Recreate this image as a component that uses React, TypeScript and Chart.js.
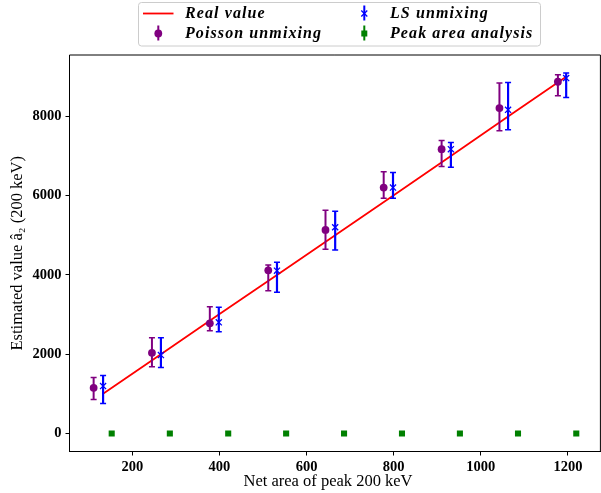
import React, { useEffect, useRef } from "react";
import { Chart, registerables } from "chart.js";
Chart.register(...registerables);

// ---- data ----
const realX = [132.7, 265.5, 398.4, 532.0, 665.6, 798.4, 931.3, 1062.6, 1196.0];
const realY = [1000, 2000, 3000, 4000, 5000, 6000, 7000, 8000, 9000];

const poissonX = [111.0, 244.9, 377.8, 512.0, 643.4, 777.0, 910.0, 1042.8, 1177.0];
const poissonY = [1152, 2036, 2779, 4118, 5136, 6205, 7175, 8211, 8876];
const poissonLow = [859, 1683, 2592, 3603, 4649, 5937, 6736, 7638, 8522];
const poissonHigh = [1415, 2416, 3199, 4252, 5634, 6602, 7393, 8843, 9053];

const lsX = [132.7, 265.5, 398.4, 532.0, 665.6, 798.4, 931.3, 1062.6, 1196.0];
const lsY = [1195, 1978, 2804, 4108, 5205, 6205, 7175, 8168, 8969];
const lsLow = [758, 1667, 2567, 3562, 4631, 5937, 6720, 7663, 8479];
const lsHigh = [1465, 2416, 3183, 4320, 5609, 6584, 7342, 8858, 9096];

const peakX = [152.5, 286.0, 420.0, 553.0, 686.0, 819.0, 952.0, 1085.4, 1219.2];
const peakY = [0, 0, 0, 0, 0, 0, 0, 0, 0];

const xTicks = [200, 400, 600, 800, 1000, 1200];
const yTicks = [0, 2000, 4000, 6000, 8000];

const legendLabels = ["Real value", "Poisson unmixing", "LS unmixing", "Peak area analysis"];
const xTitle = "Net area of peak 200 keV";
const yTitle = "Estimated value â₂ (200 keV)";

const RED = "#ff0000";
const PURPLE = "#800080";
const BLUE = "#0000ff";
const GREEN = "#008000";

const pts = (xs: number[], ys: number[]) => xs.map((x, i) => ({ x, y: ys[i] }));

const errorBarPlugin = {
  id: "errorBars",
  beforeDatasetDraw(chart: any, args: any) {
    const ds = chart.data.datasets[args.index];
    if (!ds.errLow) return;
    const { ctx } = chart;
    const x = chart.scales.x;
    const y = chart.scales.y;
    ctx.save();
    ctx.strokeStyle = ds.errColor;
    ds.data.forEach((p: any, i: number) => {
      const px = x.getPixelForValue(p.x);
      const y1 = y.getPixelForValue(ds.errLow[i]);
      const y2 = y.getPixelForValue(ds.errHigh[i]);
      ctx.lineWidth = ds.errWidth;
      ctx.beginPath();
      ctx.moveTo(px, y1);
      ctx.lineTo(px, y2);
      ctx.stroke();
      ctx.lineWidth = 1.5;
      ctx.beginPath();
      ctx.moveTo(px - 3, y1);
      ctx.lineTo(px + 3, y1);
      ctx.moveTo(px - 3, y2);
      ctx.lineTo(px + 3, y2);
      ctx.stroke();
    });
    ctx.restore();
  },
};

const framePlugin = {
  id: "frameAndLegend",
  afterDraw(chart: any) {
    const { ctx, chartArea } = chart;
    ctx.save();
    ctx.strokeStyle = "#000";
    ctx.lineWidth = 1;
    ctx.beginPath();
    ctx.moveTo(chartArea.left, chartArea.top);
    ctx.lineTo(chartArea.right, chartArea.top);
    ctx.lineTo(chartArea.right, chartArea.bottom);
    ctx.stroke();

    // axis titles
    ctx.fillStyle = "#000";
    ctx.font = "16.5px 'Liberation Serif'";
    ctx.textAlign = "center";
    ctx.textBaseline = "alphabetic";
    ctx.fillText(xTitle, 328, 485.5);
    ctx.save();
    ctx.translate(21.5, (chartArea.top + chartArea.bottom) / 2);
    ctx.rotate(-Math.PI / 2);
    ctx.fillText(yTitle, 0, 0);
    ctx.restore();

    // legend box
    const bx = 138.5, by = 2.5, bw = 402, bh = 43.5, r = 3;
    ctx.beginPath();
    ctx.moveTo(bx + r, by);
    ctx.lineTo(bx + bw - r, by);
    ctx.quadraticCurveTo(bx + bw, by, bx + bw, by + r);
    ctx.lineTo(bx + bw, by + bh - r);
    ctx.quadraticCurveTo(bx + bw, by + bh, bx + bw - r, by + bh);
    ctx.lineTo(bx + r, by + bh);
    ctx.quadraticCurveTo(bx, by + bh, bx, by + bh - r);
    ctx.lineTo(bx, by + r);
    ctx.quadraticCurveTo(bx, by, bx + r, by);
    ctx.closePath();
    ctx.fillStyle = "rgba(255,255,255,0.8)";
    ctx.fill();
    ctx.strokeStyle = "#cccccc";
    ctx.lineWidth = 1;
    ctx.stroke();

    const row1 = 13.5, row2 = 33.5;
    const c1 = 158.3, c2 = 364.3;
    // Real value line
    ctx.strokeStyle = RED;
    ctx.lineWidth = 1.8;
    ctx.beginPath();
    ctx.moveTo(143, row1);
    ctx.lineTo(173.5, row1);
    ctx.stroke();
    // Poisson
    ctx.strokeStyle = PURPLE;
    ctx.lineWidth = 2;
    ctx.beginPath();
    ctx.moveTo(c1, row2 - 8);
    ctx.lineTo(c1, row2 + 7);
    ctx.stroke();
    ctx.fillStyle = PURPLE;
    ctx.beginPath();
    ctx.arc(c1, row2, 3.9, 0, Math.PI * 2);
    ctx.fill();
    // LS
    ctx.strokeStyle = BLUE;
    ctx.lineWidth = 2;
    ctx.beginPath();
    ctx.moveTo(c2, row1 - 8);
    ctx.lineTo(c2, row1 + 7);
    ctx.stroke();
    ctx.lineWidth = 1.3;
    ctx.beginPath();
    ctx.moveTo(c2 - 3, row1 - 3);
    ctx.lineTo(c2 + 3, row1 + 3);
    ctx.moveTo(c2 - 3, row1 + 3);
    ctx.lineTo(c2 + 3, row1 - 3);
    ctx.stroke();
    // Peak
    ctx.strokeStyle = GREEN;
    ctx.lineWidth = 2;
    ctx.beginPath();
    ctx.moveTo(c2, row2 - 8);
    ctx.lineTo(c2, row2 + 7);
    ctx.stroke();
    ctx.fillStyle = GREEN;
    ctx.fillRect(c2 - 3, row2 - 3, 6, 6);

    ctx.fillStyle = "#000";
    ctx.font = "italic bold 16px 'Liberation Serif'";
    (ctx as any).letterSpacing = "1.1px";
    ctx.textBaseline = "middle";
    ctx.textAlign = "left";
    ctx.fillText(legendLabels[0], 185, row1 + 0.5);
    ctx.fillText(legendLabels[1], 185, row2 + 0.5);
    ctx.fillText(legendLabels[2], 390, row1 + 0.5);
    ctx.fillText(legendLabels[3], 390, row2 + 0.5);
    ctx.restore();
  },
};

export default function App() {
  const ref = useRef<HTMLCanvasElement | null>(null);
  useEffect(() => {
    document.body.style.margin = "0";
    const canvas = ref.current!;
    const tickFont = { family: "'Liberation Serif'", size: 14.5, weight: "bold" as const };
    const chart = new Chart(canvas, {
      type: "scatter",
      data: {
        datasets: [
          {
            label: legendLabels[0],
            data: pts(realX, realY),
            showLine: true,
            borderColor: RED,
            borderWidth: 1.8,
            pointRadius: 0,
            order: 4,
          } as any,
          {
            label: legendLabels[1],
            data: pts(poissonX, poissonY),
            pointStyle: "circle",
            pointRadius: 3.9,
            backgroundColor: PURPLE,
            borderColor: PURPLE,
            borderWidth: 0,
            errLow: poissonLow,
            errHigh: poissonHigh,
            errColor: PURPLE,
            errWidth: 2,
            order: 3,
          } as any,
          {
            label: legendLabels[2],
            data: pts(lsX, lsY),
            pointStyle: "crossRot",
            pointRadius: 4.3,
            backgroundColor: BLUE,
            borderColor: BLUE,
            borderWidth: 1.3,
            errLow: lsLow,
            errHigh: lsHigh,
            errColor: BLUE,
            errWidth: 2.2,
            order: 2,
          } as any,
          {
            label: legendLabels[3],
            data: pts(peakX, peakY),
            pointStyle: "rect",
            pointRadius: 4.3,
            backgroundColor: GREEN,
            borderColor: GREEN,
            borderWidth: 0,
            order: 1,
          } as any,
        ],
      },
      options: {
        animation: false,
        responsive: false,
        devicePixelRatio: 1,
        layout: { padding: { top: 55, right: 3, left: 0, bottom: 0 } },
        plugins: { legend: { display: false }, tooltip: { enabled: false } },
        scales: {
          x: {
            type: "linear",
            min: 55.6,
            max: 1274.6,
            afterFit: (s: any) => {
              s.height = 41.5;
            },
            afterBuildTicks: (s: any) => {
              s.ticks = xTicks.map((v) => ({ value: v }));
            },
            grid: { drawOnChartArea: false, drawTicks: true, tickLength: 4, color: "#000", tickWidth: 1 },
            border: { display: true, color: "#000", width: 1 },
            ticks: { color: "#000", font: tickFont, padding: 3, maxRotation: 0, autoSkip: false, callback: (v: any) => String(v) },
          },
          y: {
            type: "linear",
            min: -455,
            max: 9551,
            afterFit: (s: any) => {
              s.width = 69.5;
            },
            afterBuildTicks: (s: any) => {
              s.ticks = yTicks.map((v) => ({ value: v }));
            },
            grid: { drawOnChartArea: false, drawTicks: true, tickLength: 4, color: "#000", tickWidth: 1 },
            border: { display: true, color: "#000", width: 1 },
            ticks: { color: "#000", font: tickFont, padding: 4, autoSkip: false, callback: (v: any) => String(v) },
          },
        },
      },
      plugins: [errorBarPlugin, framePlugin],
    });
    return () => chart.destroy();
  }, []);
  return (
    <div style={{ position: "fixed", left: 0, top: 0, width: 601, height: 493, overflow: "hidden", background: "#fff" }}>
      <canvas ref={ref} width={606} height={493} style={{ width: 606, height: 493, display: "block" }} />
    </div>
  );
}
